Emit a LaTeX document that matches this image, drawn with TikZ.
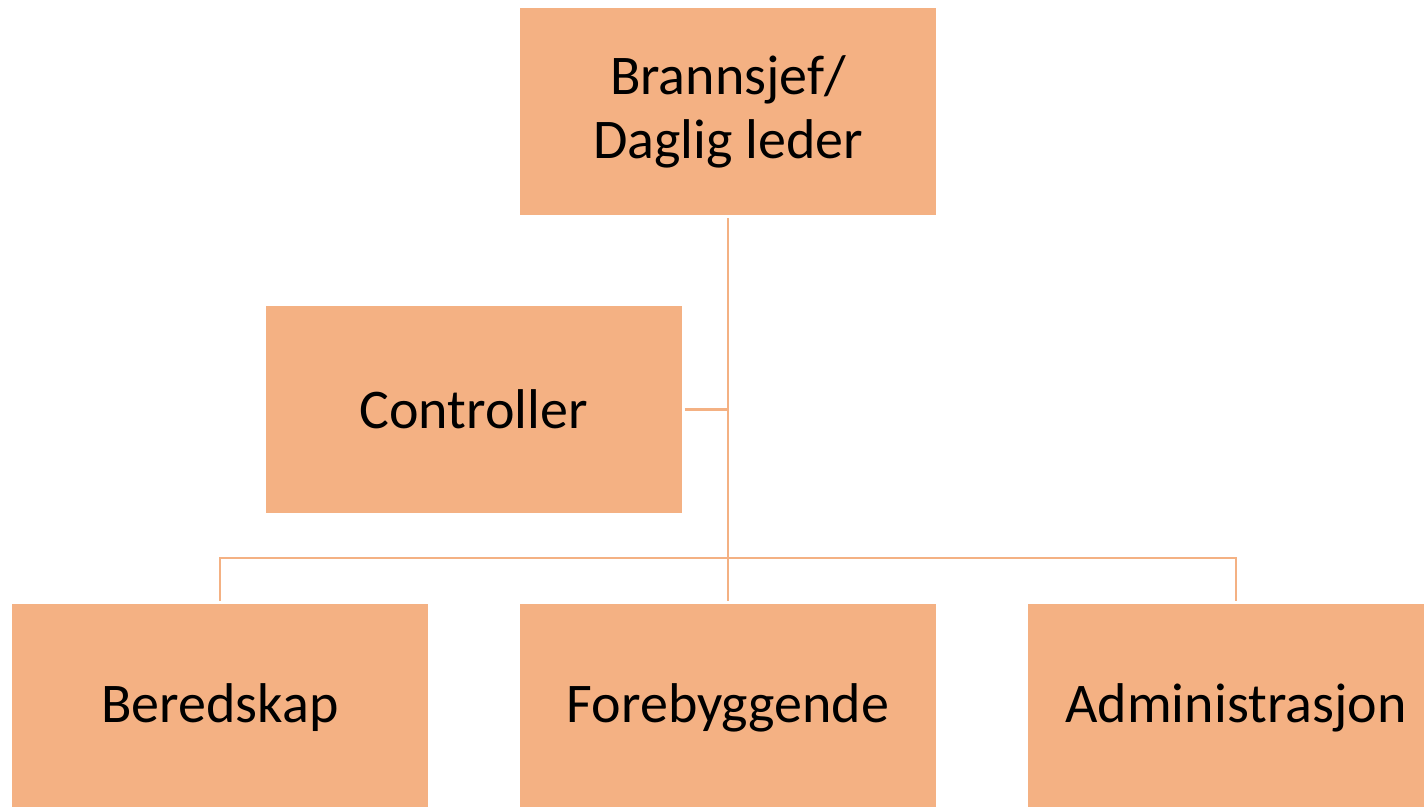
\documentclass[tikz,border=0pt]{standalone}
\usepackage{fontspec}
\setmainfont{Carlito}
\definecolor{boxorange}{HTML}{F4B183}
\begin{document}
\begin{tikzpicture}[x=1pt,y=1pt,
  orgbox/.style={rectangle, fill=boxorange, draw=none, minimum width=416pt, minimum height=207pt, inner sep=0pt, align=center, font=\fontsize{56}{64}\selectfont},
  link/.style={draw=boxorange, line width=2.2pt}]
\useasboundingbox (0,0) rectangle (1424,-806);
\clip (0,0) rectangle (1424,-806);
\node[orgbox] (top) at (728,-111.5) {Brannsjef/\\Daglig leder};
\node[orgbox] (ctrl) at (473.5,-409.5) {Controller};
\node[orgbox] (bered) at (220,-707.5) {Beredskap};
\node[orgbox] (fore) at (728,-707.5) {Forebyggende};
\node[orgbox] (admin) at (1236,-707.5) {Administrasjon};
\draw[link] ([yshift=-3pt]top.south) -- ([yshift=3pt]fore.north);
\draw[link] ([xshift=3pt]ctrl.east) -- (ctrl.east -| top.south);
\draw[link] ([yshift=3pt]bered.north) -- ++(0,43) -| ([yshift=3pt]admin.north);
\end{tikzpicture}
\end{document}
